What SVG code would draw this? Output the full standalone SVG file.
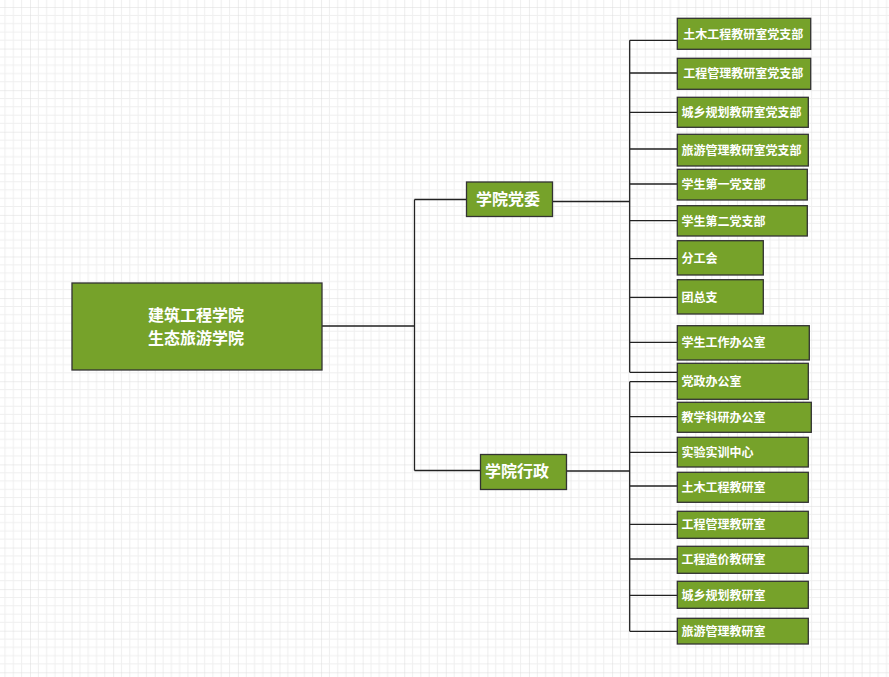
<svg xmlns="http://www.w3.org/2000/svg" width="889" height="677" viewBox="0 0 889 677">
<defs>
<pattern id="grid" patternUnits="userSpaceOnUse" x="30" y="7" width="41.58" height="41.58">
<path d="M8.316 0V41.58M16.632 0V41.58M24.948 0V41.58M33.264 0V41.58M0 8.316H41.58M0 16.632H41.58M0 24.948H41.58M0 33.264H41.58" stroke="#efefef" stroke-width="1" fill="none"/>
<path d="M0 0V41.58M0 0H41.58" stroke="#dcdcdc" stroke-width="1" fill="none"/>
</pattern>
<style>
.box{fill:#76a22a;stroke:#333;stroke-width:1.3}
.t{font-family:"Noto Sans CJK SC","Noto Sans",sans-serif;font-weight:bold;fill:#fff;font-size:12px}
.m{font-size:16px}
.c{fill:none;stroke:#222;stroke-width:1.3}
</style>
</defs>
<rect width="889" height="677" fill="#fff"/>
<rect width="889" height="677" fill="url(#grid)"/>
<g id="connectors">
<path class="c" d="M322 326H414.5M414.5 199.5V470.5M414.5 199.5H466.5M414.5 470.5H480.5"/>
<path class="c" d="M552.5 201.5H629.7M629.7 40.3V372.3M629.7 40.3H677.3M629.7 73H677.3M629.7 112.3H677.3M629.7 149H677.3M629.7 184H677.3M629.7 220.7H677.3M629.7 258.7H677.3M629.7 297.3H677.3M629.7 342.3H677.3M629.7 372.3H677.3"/>
<path class="c" d="M566.5 471H629.7M629.7 381.7V631.3M629.7 381.7H677.3M629.7 416.7H677.3M629.7 452.3H677.3M629.7 486H677.3M629.7 524.3H677.3M629.7 559H677.3M629.7 595.3H677.3M629.7 631.3H677.3"/>
</g>
<g id="root"><rect class="box" x="72" y="283" width="250" height="87"/><text class="t m" text-anchor="middle" x="196" y="321"><tspan x="196">建筑工程学院</tspan><tspan x="196" dy="23.3">生态旅游学院</tspan></text></g>
<g id="dangwei"><rect class="box" x="466.5" y="182" width="86" height="34.5"/><text class="t m" x="476" y="205.3">学院党委</text></g>
<g id="xingzheng"><rect class="box" x="480.5" y="454.5" width="86" height="35"/><text class="t m" x="485" y="477.4">学院行政</text></g>
<g id="n1"><rect class="box" x="677.3" y="18.3" width="133.4" height="31"/><text class="t" x="683.3" y="38.6">土木工程教研室党支部</text></g>
<g id="n2"><rect class="box" x="677.3" y="58.3" width="133.4" height="31"/><text class="t" x="683.3" y="78.1">工程管理教研室党支部</text></g>
<g id="n3"><rect class="box" x="677.3" y="97.3" width="131" height="30"/><text class="t" x="681.5" y="117">城乡规划教研室党支部</text></g>
<g id="n4"><rect class="box" x="677.3" y="134.3" width="131" height="31.7"/><text class="t" x="681.5" y="154.8">旅游管理教研室党支部</text></g>
<g id="n5"><rect class="box" x="677.3" y="169.3" width="130" height="30.7"/><text class="t" x="681.5" y="189.3">学生第一党支部</text></g>
<g id="n6"><rect class="box" x="677.3" y="205.7" width="130" height="30.3"/><text class="t" x="681.5" y="225.5">学生第二党支部</text></g>
<g id="n7"><rect class="box" x="677.3" y="240.7" width="86" height="34.3"/><text class="t" x="681.5" y="263">分工会</text></g>
<g id="n8"><rect class="box" x="677.3" y="279.7" width="86" height="34.3"/><text class="t" x="681.5" y="301.8">团总支</text></g>
<g id="n9"><rect class="box" x="677.3" y="325.7" width="132" height="34.3"/><text class="t" x="681.5" y="347.2">学生工作办公室</text></g>
<g id="n10"><rect class="box" x="677.3" y="363.3" width="131" height="36"/><text class="t" x="681.5" y="386.2">党政办公室</text></g>
<g id="n11"><rect class="box" x="677.3" y="402.3" width="134" height="30"/><text class="t" x="681.5" y="421.8">教学科研办公室</text></g>
<g id="n12"><rect class="box" x="677.3" y="437.3" width="131" height="29.7"/><text class="t" x="681.5" y="456.8">实验实训中心</text></g>
<g id="n13"><rect class="box" x="677.3" y="472.3" width="131" height="30"/><text class="t" x="681.5" y="491.8">土木工程教研室</text></g>
<g id="n14"><rect class="box" x="677.3" y="511.3" width="131" height="27"/><text class="t" x="681.5" y="529.3">工程管理教研室</text></g>
<g id="n15"><rect class="box" x="677.3" y="546.3" width="131" height="27"/><text class="t" x="681.5" y="564.3">工程造价教研室</text></g>
<g id="n16"><rect class="box" x="677.3" y="581.3" width="131" height="27"/><text class="t" x="681.5" y="599.6">城乡规划教研室</text></g>
<g id="n17"><rect class="box" x="677.3" y="618.3" width="131" height="25.7"/><text class="t" x="681.5" y="635.6">旅游管理教研室</text></g>
</svg>
